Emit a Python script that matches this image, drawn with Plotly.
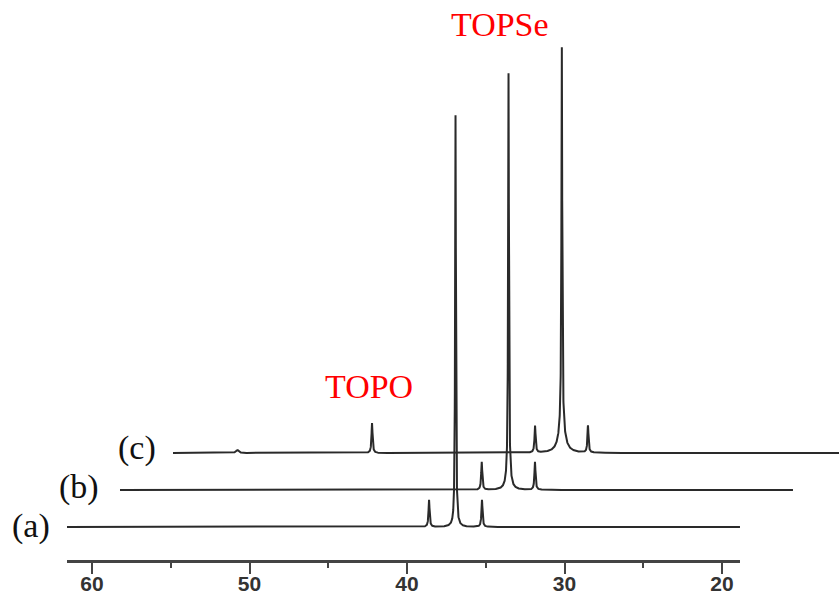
import numpy as np
import plotly.graph_objects as go

# ---- data (ppm positions, peak heights in arbitrary units) ----
trace_labels = ["(a)", "(b)", "(c)"]
peaks_a_ppm = [38.60, 36.92, 35.24]
peaks_a_height = [27, 412, 27]
peaks_a_width = [0.08, 0.06, 0.08]

peaks_b_ppm = [38.62, 36.92, 36.92, 35.24]
peaks_b_height = [28, 405, 12, 28]
peaks_b_width = [0.08, 0.06, 0.3, 0.08]

peaks_c_ppm = [57.5, 48.95, 38.60, 36.90, 36.90, 35.24]
peaks_c_height = [3, 30, 27, 380, 26, 27]
peaks_c_width = [0.2, 0.08, 0.08, 0.06, 0.45, 0.08]

tick_values = [60, 50, 40, 30, 20]
minor_tick_values = [55, 45, 35, 25]

# ---- layout constants ----
W, H = 839, 597
PX_PER_PPM = 15.75
X_LEFT = 60 + 92 / PX_PER_PPM          # ppm at left figure edge
X_RIGHT = 60 - (W - 92) / PX_PER_PPM   # ppm at right figure edge
AX_LEFT = 60 + (92 - 67) / PX_PER_PPM
AX_RIGHT = 60 - (740 - 92) / PX_PER_PPM
baselines = [70, 107, 144]             # vertical offsets (pixels from bottom)
shifts = [0.0, 53 / PX_PER_PPM, 106 / PX_PER_PPM]  # pseudo-3D horizontal shift
ends = [AX_RIGHT, AX_RIGHT, 10.0]
LINE_COLOR = "#2a2a2a"


def spectrum(grid, centers, heights, widths):
    y = np.zeros_like(grid)
    for c, h, w in zip(centers, heights, widths):
        hw = w / 2.0
        y += h * hw ** 2 / ((grid - c) ** 2 + hw ** 2)
    return y


fig = go.Figure()
peak_sets = [
    (peaks_a_ppm, peaks_a_height, peaks_a_width),
    (peaks_b_ppm, peaks_b_height, peaks_b_width),
    (peaks_c_ppm, peaks_c_height, peaks_c_width),
]
for (c, h, w), base, sh, end in zip(peak_sets, baselines, shifts, ends):
    grid = np.arange(AX_LEFT, end, -0.004)
    y = spectrum(grid, c, h, w) + base
    fig.add_trace(go.Scatter(x=grid - sh, y=y, mode="lines",
                             line=dict(color=LINE_COLOR, width=2),
                             hoverinfo="skip", showlegend=False))

# invisible trace on the scale axis
fig.add_trace(go.Scatter(x=[AX_LEFT, AX_RIGHT], y=[0, 0], xaxis="x2", yaxis="y2",
                         mode="lines", line=dict(width=0), showlegend=False,
                         hoverinfo="skip"))

serif = "Liberation Serif, Times New Roman, serif"
annotations = [
    dict(text="TOPSe", x=500 / W, y=1 - 25 / H, font=dict(color="#ff0000", size=34, family=serif)),
    dict(text="TOPO", x=369 / W, y=1 - 386 / H, font=dict(color="#ff0000", size=34, family=serif)),
]
label_pos = [(31, 526), (79, 487), (137, 448)]
for lab, (lx, ly) in zip(trace_labels, label_pos):
    annotations.append(dict(text=lab, x=lx / W, y=1 - ly / H,
                            font=dict(color="#111111", size=34, family=serif)))
for a in annotations:
    a.update(xref="paper", yref="paper", showarrow=False, xanchor="center", yanchor="middle")

fig.update_layout(
    width=W, height=H,
    margin=dict(l=0, r=0, t=0, b=0, autoexpand=False),
    paper_bgcolor="white", plot_bgcolor="white",
    showlegend=False,
    xaxis=dict(range=[X_LEFT, X_RIGHT], visible=False, domain=[0, 1], automargin=False),
    yaxis=dict(range=[0, H], visible=False, domain=[0, 1], automargin=False),
    xaxis2=dict(domain=[67 / W, 740 / W], range=[AX_LEFT, AX_RIGHT], anchor="y2",
                automargin=False,
                showline=True, linecolor="#444444", linewidth=3,
                ticks="outside", ticklen=11, tickwidth=2, tickcolor="#444444",
                tickvals=tick_values, ticktext=[str(v) for v in tick_values],
                ticklabelstandoff=-8,
                minor=dict(tickvals=minor_tick_values, ticks="outside", ticklen=5,
                           tickwidth=2, tickcolor="#444444"),
                showgrid=False, zeroline=False,
                tickfont=dict(family="Liberation Sans, Arial, sans-serif", size=21,
                              color="#333333", weight="bold")),
    yaxis2=dict(domain=[37 / H, 60 / H], anchor="x2", visible=False, range=[0, 1],
                automargin=False),
    annotations=annotations,
)

fig.write_html("out.html", config={"displayModeBar": False},
               post_script="document.body.style.margin='0';document.body.style.overflow='hidden';")
